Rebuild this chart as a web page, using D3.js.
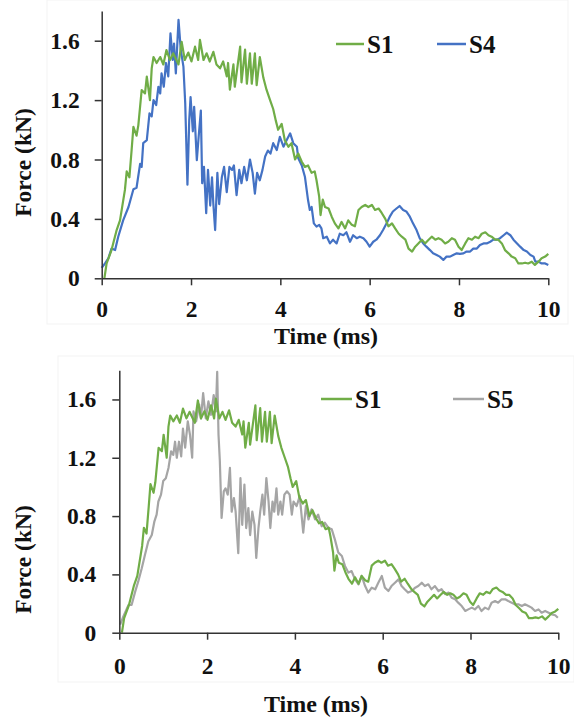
<!DOCTYPE html>
<html>
<head>
<meta charset="utf-8">
<script src="https://cdn.jsdelivr.net/npm/d3@7"></script>
<style>
  html, body { margin: 0; padding: 0; background: #fff; }
  svg { display: block; }
  text { font-family: "Liberation Serif", "Times New Roman", serif; font-weight: bold; fill: #111; }
</style>
</head>
<body>
<script>
// ---------- DATA ----------
const xTicks = [0, 2, 4, 6, 8, 10];
const yTicks = [0, 0.4, 0.8, 1.2, 1.6];
const xTitle = "Time (ms)";
const yTitle = "Force (kN)";

const s1Time = [0.06,0.11,0.22,0.335,0.41,0.52,0.56,0.62,0.67,0.71,0.78,0.82,0.895,0.97,1.01,1.08,1.12,1.16,1.23,1.31,1.38,1.45,1.53,1.6,1.72,1.79,1.86,1.94,2.01,2.09,2.16,2.2,2.28,2.35,2.42,2.5,2.57,2.65,2.72,2.8,2.83,2.87,2.95,2.98,3.1,3.13,3.21,3.25,3.32,3.36,3.43,3.47,3.54,3.62,3.69,3.77,3.84,3.9,3.95,4.03,4.1,4.18,4.25,4.33,4.4,4.48,4.55,4.62,4.7,4.77,4.81,4.87,4.9,4.95,5.0,5.08,5.15,5.22,5.3,5.37,5.45,5.52,5.6,5.67,5.75,5.82,5.9,5.97,6.05,6.12,6.2,6.27,6.35,6.42,6.5,6.57,6.65,6.72,6.8,6.87,6.95,7.02,7.09,7.17,7.24,7.32,7.39,7.47,7.54,7.61,7.69,7.76,7.84,7.91,7.99,8.06,8.14,8.21,8.29,8.36,8.44,8.51,8.59,8.66,8.73,8.81,8.88,8.96,9.03,9.11,9.18,9.26,9.33,9.41,9.48,9.55,9.63,9.7,9.78,9.85,9.93,10.0];
const s1Force = [0.0,0.10,0.19,0.325,0.39,0.595,0.72,0.68,0.864,1.02,0.96,1.03,1.268,1.245,1.358,1.20,1.414,1.49,1.45,1.49,1.44,1.537,1.47,1.515,1.44,1.593,1.47,1.52,1.46,1.56,1.47,1.605,1.47,1.515,1.46,1.525,1.44,1.414,1.46,1.36,1.45,1.27,1.44,1.29,1.56,1.32,1.54,1.31,1.515,1.31,1.515,1.30,1.49,1.35,1.27,1.20,1.14,1.06,1.0,1.04,0.93,0.886,0.91,0.80,0.84,0.785,0.75,0.76,0.71,0.72,0.66,0.55,0.426,0.53,0.48,0.47,0.415,0.37,0.336,0.38,0.336,0.39,0.36,0.35,0.46,0.48,0.494,0.48,0.494,0.46,0.47,0.44,0.40,0.35,0.37,0.336,0.30,0.28,0.26,0.20,0.18,0.213,0.235,0.26,0.235,0.26,0.28,0.26,0.27,0.26,0.235,0.246,0.27,0.26,0.213,0.19,0.235,0.27,0.26,0.28,0.27,0.30,0.31,0.29,0.28,0.26,0.26,0.235,0.19,0.168,0.146,0.135,0.10,0.10,0.105,0.10,0.112,0.09,0.112,0.135,0.146,0.164];

const s4Time = [0,0.075,0.15,0.22,0.3,0.37,0.48,0.6,0.71,0.78,0.86,0.895,0.93,1.01,1.07,1.12,1.16,1.22,1.27,1.31,1.34,1.39,1.44,1.49,1.54,1.59,1.62,1.66,1.72,1.77,1.83,1.87,1.92,1.96,1.99,2.04,2.07,2.13,2.17,2.22,2.25,2.29,2.34,2.38,2.43,2.47,2.5,2.54,2.59,2.63,2.69,2.74,2.8,2.86,2.92,2.96,3.02,3.08,3.13,3.19,3.25,3.32,3.38,3.43,3.48,3.54,3.6,3.66,3.72,3.78,3.84,3.92,3.99,4.07,4.14,4.22,4.29,4.37,4.4,4.48,4.55,4.62,4.66,4.7,4.75,4.81,4.87,4.92,4.96,5.04,5.11,5.18,5.26,5.33,5.41,5.48,5.56,5.63,5.71,5.78,5.86,5.93,6.0,6.08,6.15,6.23,6.3,6.38,6.45,6.52,6.6,6.67,6.75,6.82,6.9,6.97,7.05,7.12,7.2,7.27,7.35,7.42,7.5,7.57,7.65,7.72,7.8,7.87,7.95,8.02,8.1,8.17,8.25,8.32,8.4,8.47,8.55,8.62,8.7,8.77,8.85,8.92,9.0,9.07,9.15,9.22,9.3,9.37,9.45,9.52,9.6,9.67,9.71,9.78,9.85,9.93,10.0];
const s4Force = [0.07,0.10,0.135,0.20,0.19,0.28,0.39,0.48,0.60,0.61,0.77,0.75,0.91,0.93,1.11,1.09,1.20,1.167,1.29,1.245,1.38,1.29,1.45,1.36,1.65,1.47,1.58,1.38,1.74,1.54,1.425,1.18,0.63,1.065,1.22,0.99,1.155,0.796,0.95,1.13,0.64,0.75,0.438,0.73,0.49,0.68,0.50,0.325,0.71,0.50,0.68,0.75,0.58,0.75,0.73,0.76,0.56,0.73,0.64,0.75,0.66,0.80,0.71,0.57,0.71,0.66,0.73,0.82,0.86,0.84,0.91,0.864,0.953,0.886,0.93,0.976,0.91,0.886,0.81,0.76,0.684,0.527,0.46,0.48,0.37,0.348,0.36,0.336,0.27,0.28,0.235,0.26,0.235,0.30,0.29,0.31,0.246,0.29,0.27,0.28,0.27,0.246,0.213,0.246,0.26,0.29,0.325,0.37,0.415,0.45,0.47,0.487,0.46,0.45,0.415,0.37,0.325,0.27,0.235,0.213,0.19,0.168,0.157,0.146,0.124,0.146,0.146,0.157,0.168,0.164,0.168,0.18,0.18,0.20,0.20,0.224,0.235,0.235,0.246,0.26,0.26,0.27,0.29,0.307,0.29,0.26,0.235,0.213,0.19,0.18,0.157,0.146,0.112,0.112,0.10,0.10,0.09];

const s5Time = [0.02,0.09,0.21,0.28,0.36,0.43,0.51,0.585,0.66,0.74,0.8,0.85,0.89,0.95,1.0,1.06,1.12,1.18,1.23,1.27,1.31,1.36,1.41,1.45,1.5,1.56,1.61,1.66,1.69,1.75,1.82,1.86,1.91,1.97,2.03,2.09,2.15,2.2,2.23,2.26,2.29,2.33,2.38,2.42,2.47,2.52,2.56,2.61,2.65,2.71,2.76,2.8,2.85,2.89,2.94,2.98,3.03,3.08,3.12,3.17,3.21,3.26,3.3,3.35,3.4,3.44,3.49,3.53,3.58,3.62,3.67,3.71,3.76,3.82,3.88,3.93,3.97,4.04,4.11,4.19,4.25,4.31,4.38,4.46,4.53,4.61,4.68,4.76,4.84,4.91,4.99,5.07,5.14,5.22,5.29,5.37,5.45,5.52,5.6,5.67,5.75,5.83,5.9,5.98,6.05,6.13,6.2,6.28,6.36,6.43,6.5,6.58,6.66,6.74,6.81,6.89,6.96,7.04,7.11,7.19,7.27,7.34,7.42,7.5,7.57,7.65,7.72,7.8,7.88,7.95,8.03,8.1,8.18,8.25,8.33,8.41,8.48,8.56,8.63,8.71,8.79,8.86,8.94,9.01,9.09,9.17,9.24,9.32,9.39,9.47,9.55,9.62,9.7,9.78,9.85,9.93,9.99];
const s5Force = [0.055,0.11,0.19,0.19,0.28,0.35,0.44,0.535,0.625,0.67,0.764,0.81,0.90,0.947,1.04,1.06,1.13,1.244,1.22,1.31,1.2,1.31,1.21,1.40,1.27,1.45,1.358,1.2,1.518,1.45,1.564,1.47,1.644,1.47,1.587,1.495,1.63,1.518,1.79,1.358,1.18,0.787,0.97,0.99,0.947,1.13,0.83,0.924,0.83,0.546,1.06,0.74,1.016,0.718,0.855,0.67,0.83,0.74,0.513,0.718,0.83,0.947,0.81,1.06,0.90,0.718,0.90,0.83,0.99,0.81,0.90,0.81,0.947,0.97,0.947,0.81,0.90,0.869,0.937,0.686,0.869,0.777,0.846,0.777,0.81,0.73,0.755,0.72,0.709,0.64,0.549,0.526,0.458,0.412,0.423,0.366,0.332,0.389,0.32,0.275,0.309,0.298,0.343,0.389,0.309,0.286,0.32,0.343,0.366,0.32,0.298,0.275,0.286,0.309,0.32,0.343,0.32,0.332,0.298,0.32,0.286,0.298,0.264,0.275,0.24,0.229,0.206,0.183,0.149,0.16,0.172,0.16,0.183,0.149,0.172,0.16,0.206,0.217,0.206,0.229,0.229,0.217,0.206,0.195,0.195,0.183,0.195,0.183,0.172,0.149,0.16,0.137,0.149,0.137,0.126,0.12,0.103];

const seriesColors = {S1: "#70AD47", S4: "#4472C4", S5: "#A5A5A5"};
const seriesData = {
  S1: s1Time.map((t, i) => ({t, v: s1Force[i]})),
  S4: s4Time.map((t, i) => ({t, v: s4Force[i]})),
  S5: s5Time.map((t, i) => ({t, v: s5Force[i]}))
};

// ---------- LAYOUT ----------
const W = 574, H = 719;
const panels = [
  { frame: [47, 0, 521, 324], xr: [101.7, 548.3], yr: [278.3, 11], show: ["S1", "S4"],
    xPad: 15, yPad: 15, xTitlePos: [326, 344], yTitlePos: [31, 162.5],
    legend: [{x1: 336, x2: 364, y: 44, tx: 367, ty: 53}, {x1: 437, x2: 466, y: 44, tx: 469, ty: 53}] },
  { frame: [58, 356, 516, 326], xr: [119.3, 558.3], yr: [632.7, 370.3], show: ["S1", "S5"],
    xPad: 18, yPad: 16, xTitlePos: [316, 712], yTitlePos: [31, 559.5],
    legend: [{x1: 321, x2: 352, y: 399, tx: 355, ty: 408}, {x1: 453, x2: 484, y: 399, tx: 487, ty: 408}] }
];

const svg = d3.select("body").append("svg").attr("width", W).attr("height", H);
svg.append("rect").attr("width", W).attr("height", H).attr("fill", "#fff");

panels.forEach(p => {
  const g = svg.append("g");
  g.append("rect").attr("x", p.frame[0]).attr("y", p.frame[1]).attr("width", p.frame[2]).attr("height", p.frame[3])
    .attr("fill", "none").attr("stroke", "#f3f3f3").attr("stroke-width", 1);

  const x = d3.scaleLinear().domain([0, 10]).range(p.xr);
  const y = d3.scaleLinear().domain([0, 1.8]).range(p.yr);

  const line = d3.line().x(d => x(d.t)).y(d => y(d.v));
  p.show.slice().reverse().forEach(name => {
    g.append("path").datum(seriesData[name])
      .attr("d", line).attr("fill", "none")
      .attr("stroke", seriesColors[name]).attr("stroke-width", 2.2)
      .attr("stroke-linejoin", "round");
  });

  const xAxis = d3.axisBottom(x).tickValues(xTicks).tickFormat(d3.format("d"))
    .tickSize(7).tickSizeOuter(0).tickPadding(p.xPad);
  const yAxis = d3.axisLeft(y).tickValues(yTicks).tickFormat(d => d === 0 ? "0" : d3.format(".1f")(d))
    .tickSize(7).tickSizeOuter(0).tickPadding(p.yPad);

  const gx = g.append("g").attr("transform", `translate(0,${p.yr[0]})`).call(xAxis);
  const gy = g.append("g").attr("transform", `translate(${p.xr[0]},0)`).call(yAxis);
  [gx, gy].forEach(a => {
    a.select(".domain").attr("stroke", "#333").attr("stroke-width", 1.5);
    a.selectAll(".tick line").attr("stroke", "#333").attr("stroke-width", 1.5);
    a.selectAll(".tick text").attr("font-size", 23.5).attr("font-family", "Liberation Serif, Times New Roman, serif")
      .attr("font-weight", "bold").attr("fill", "#111");
  });

  g.append("text").attr("x", p.xTitlePos[0]).attr("y", p.xTitlePos[1])
    .attr("text-anchor", "middle").attr("font-size", 24).text(xTitle);
  g.append("text").attr("transform", `translate(${p.yTitlePos[0]},${p.yTitlePos[1]}) rotate(-90)`)
    .attr("text-anchor", "middle").attr("font-size", 23.5).text(yTitle);

  p.show.forEach((name, i) => {
    const L = p.legend[i];
    g.append("line").attr("x1", L.x1).attr("x2", L.x2).attr("y1", L.y).attr("y2", L.y)
      .attr("stroke", seriesColors[name]).attr("stroke-width", 2.5);
    g.append("text").attr("x", L.tx).attr("y", L.ty).attr("font-size", 25).text(name);
  });
});
</script>
</body>
</html>
